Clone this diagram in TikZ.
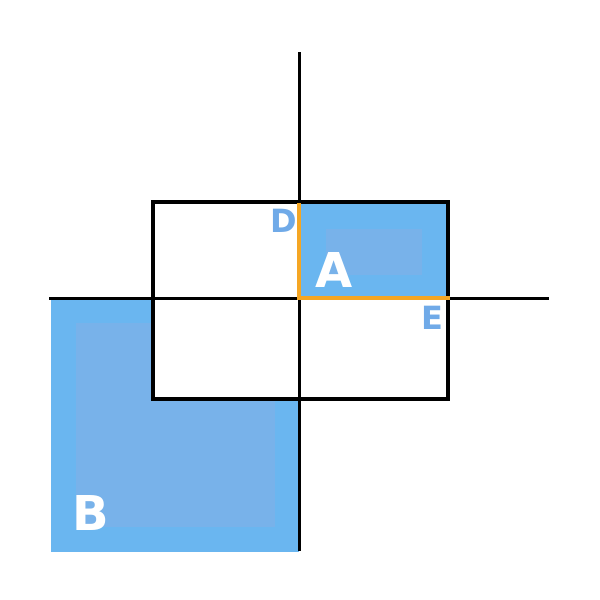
\documentclass[tikz,border=0pt]{standalone}
\usepackage{fontspec}
\setmainfont{DejaVu Sans}
\definecolor{bluebg}{RGB}{106,182,240}
\definecolor{blueinner}{RGB}{120,178,234}
\definecolor{letterblue}{RGB}{112,170,232}
\definecolor{orangeline}{RGB}{245,166,35}
\tikzset{
  axis/.style={line width=3pt,black},
  frame/.style={line width=4pt,black},
  hl/.style={line width=3.5pt,orangeline},
  biglabel/.style={text=white,font=\fontsize{48}{48}\selectfont\bfseries,inner sep=0pt},
  smalllabel/.style={text=letterblue,font=\fontsize{32}{32}\selectfont\bfseries,inner sep=0pt}
}
\begin{document}
\begin{tikzpicture}[x=1pt,y=-1pt]
\useasboundingbox[fill=white] (0,0) rectangle (600,600);
% B region
\fill[bluebg] (51,298) rectangle (299,552);
\fill[blueinner] (76,323) rectangle (275,527);
\fill[white] (153,298) rectangle (299,399);
% A region
\fill[bluebg] (299,202) rectangle (448,298);
\fill[blueinner] (326,229) rectangle (422,275);
% axes
\coordinate (top) at (299,52);
\coordinate (bottom) at (299,551);
\coordinate (left) at (49,298);
\coordinate (right) at (549,298);
\draw[axis] (top) -- (bottom);
\draw[axis] (left) -- (right);
% frame
\draw[frame] (153,202) rectangle (448,399);
% orange highlight
\coordinate (o) at (299,298);
\coordinate (ot) at (299,203);
\coordinate (or) at (450,298);
\draw[hl,line cap=butt] (ot) -- (o) -- (or);
% labels
\node[smalllabel] (D) at (284,220.5) {D};
\node[smalllabel] (E) at (432.5,317.5) {E};
\node[biglabel] (A) at (334,269.5) {A};
\node[biglabel] (B) at (91,512.5) {B};
\end{tikzpicture}
\end{document}
